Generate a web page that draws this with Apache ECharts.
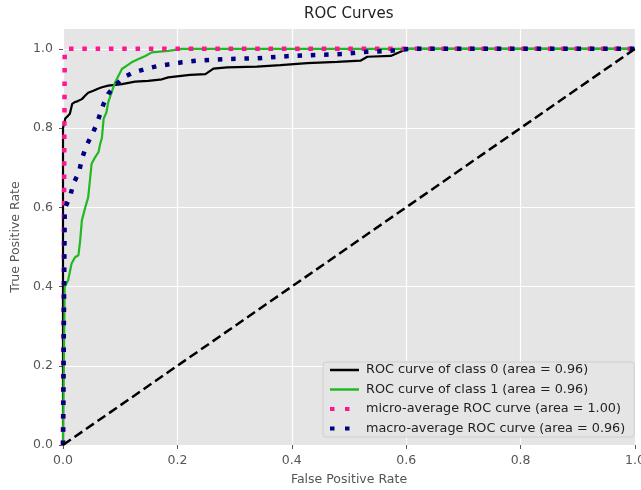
<!DOCTYPE html>
<html>
<head>
<meta charset="utf-8">
<script src="https://cdn.jsdelivr.net/npm/echarts@6/dist/echarts.min.js"></script>
<style>
html,body{margin:0;padding:0;background:#fff;}
#chart{width:641px;height:490px;}
</style>
</head>
<body>
<div id="chart"></div>
<script>
// ---- data ----
const xTicks = [0, 0.2, 0.4, 0.6, 0.8, 1.0];
const yTicks = [0, 0.2, 0.4, 0.6, 0.8, 1.0];

const seriesNames = [
  'ROC curve of class 0 (area = 0.96)',
  'ROC curve of class 1 (area = 0.96)',
  'micro-average ROC curve (area = 1.00)',
  'macro-average ROC curve (area = 0.96)'
];

const fpr0 = [0, 0.000, 0.004, 0.008, 0.012, 0.016, 0.020, 0.026, 0.033, 0.039, 0.044, 0.053, 0.061, 0.068, 0.079, 0.091, 0.103, 0.126, 0.149, 0.173, 0.184, 0.222, 0.249, 0.263, 0.287, 0.339, 0.380, 0.427, 0.479, 0.520, 0.532, 0.573, 0.584, 0.602, 1.0];
const tpr0 = [0, 0.800, 0.824, 0.830, 0.836, 0.861, 0.865, 0.868, 0.873, 0.882, 0.889, 0.894, 0.899, 0.903, 0.907, 0.909, 0.911, 0.917, 0.919, 0.923, 0.928, 0.934, 0.936, 0.950, 0.953, 0.955, 0.959, 0.964, 0.967, 0.970, 0.980, 0.982, 0.989, 1.0, 1.0];

const fpr1 = [0, 0.003, 0.009, 0.015, 0.021, 0.027, 0.030, 0.033, 0.039, 0.044, 0.047, 0.050, 0.056, 0.062, 0.065, 0.068, 0.071, 0.076, 0.079, 0.085, 0.091, 0.097, 0.103, 0.111, 0.120, 0.132, 0.144, 0.155, 0.184, 0.208, 1.0];
const tpr1 = [0, 0.399, 0.416, 0.458, 0.474, 0.479, 0.516, 0.567, 0.600, 0.625, 0.667, 0.710, 0.726, 0.739, 0.760, 0.775, 0.823, 0.840, 0.865, 0.890, 0.915, 0.932, 0.949, 0.957, 0.966, 0.974, 0.982, 0.991, 0.995, 1.0, 1.0];

const fprMicro = [0, 0.003, 0.010, 1.0];
const tprMicro = [0, 0.995, 1.0, 1.0];

const fprMacro = [0, 0.003, 0.012, 0.018, 0.028, 0.033, 0.041, 0.050, 0.059, 0.065, 0.071, 0.079, 0.091, 0.106, 0.123, 0.144, 0.167, 0.187, 0.208, 0.234, 0.280, 0.339, 0.398, 0.490, 0.525, 0.573, 0.608, 1.0];
const tprMacro = [0, 0.597, 0.625, 0.659, 0.689, 0.722, 0.756, 0.781, 0.810, 0.836, 0.861, 0.886, 0.907, 0.928, 0.940, 0.949, 0.957, 0.961, 0.966, 0.970, 0.974, 0.976, 0.982, 0.987, 0.992, 0.995, 1.0, 1.0];

const fprChance = [0, 1];
const tprChance = [0, 1];

// ---- build chart ----
const zip = (a, b) => a.map((v, i) => [v, b[i]]);
const FONT = 'DejaVu Sans';

const chart = echarts.init(document.getElementById('chart'), null, {renderer: 'canvas'});
const hidden = {opacity: 0};
const option = {
  animation: false,
  textStyle: {fontFamily: FONT},
  title: {
    text: 'ROC Curves',
    left: 304, top: 7, padding: 0,
    textStyle: {fontFamily: FONT, fontSize: 15, fontWeight: 'normal', color: '#222'}
  },
  grid: {
    left: 63, right: 6, top: 29, bottom: 45,
    outerBoundsMode: 'none', containLabel: false,
    show: true, backgroundColor: '#e5e5e5', borderWidth: 0
  },
  xAxis: {
    type: 'value', min: 0, max: 1, interval: 0.2,
    name: 'False Positive Rate', nameLocation: 'middle', nameGap: 28,
    nameTextStyle: {fontFamily: FONT, fontSize: 12.5, color: '#555'},
    axisLine: {show: false},
    axisTick: {show: true, length: 4, lineStyle: {color: '#555', width: 1}},
    axisLabel: {color: '#555', fontSize: 12.5, fontFamily: FONT, margin: 9,
      customValues: xTicks, formatter: v => v.toFixed(1)},
    splitLine: {show: true, lineStyle: {color: '#ffffff', width: 1.2}}
  },
  yAxis: {
    type: 'value', min: 0, max: 1.05, interval: 0.2,
    name: 'True Positive Rate', nameLocation: 'middle', nameGap: 29,
    nameTextStyle: {fontFamily: FONT, fontSize: 12.5, color: '#555'},
    axisLine: {show: false},
    axisTick: {show: true, length: 4, lineStyle: {color: '#555', width: 1}, customValues: yTicks},
    axisLabel: {color: '#555', fontSize: 12.5, fontFamily: FONT, margin: 10,
      customValues: yTicks, formatter: v => v.toFixed(1)},
    splitLine: {show: true, lineStyle: {color: '#ffffff', width: 1.2}}
  },
  legend: {
    orient: 'vertical',
    left: 323, top: 362,
    padding: [1, 9, 1.5, 5],
    itemWidth: 29, itemHeight: 14, itemGap: 5.5,
    backgroundColor: '#e5e5e5',
    borderColor: '#cfcfcf', borderWidth: 1, borderRadius: 3,
    textStyle: {fontFamily: FONT, fontSize: 12.8, color: '#222', lineHeight: 14, padding: [0, 0, 0, 2]},
    data: [
      {name: seriesNames[0], itemStyle: hidden, lineStyle: {width: 2.5, type: 'solid'}},
      {name: seriesNames[1], itemStyle: hidden, lineStyle: {width: 2.5, type: 'solid'}},
      {name: seriesNames[2], itemStyle: hidden, lineStyle: {width: 4, type: [4.5, 10.5]}},
      {name: seriesNames[3], itemStyle: hidden, lineStyle: {width: 4, type: [4.5, 10.5]}}
    ]
  },
  series: [
    {name: seriesNames[0], type: 'line', data: zip(fpr0, tpr0), symbol: 'none', color: '#000000',
      lineStyle: {color: '#000000', width: 2.2}},
    {name: seriesNames[1], type: 'line', data: zip(fpr1, tpr1), symbol: 'none', color: '#22b822',
      lineStyle: {color: '#22b822', width: 2.2}},
    {name: seriesNames[2], type: 'line', data: zip(fprMicro, tprMicro), symbol: 'none', color: '#ff1493',
      lineStyle: {color: '#ff1493', width: 4.5, type: [4.5, 8.8], cap: 'butt'}},
    {name: seriesNames[3], type: 'line', data: zip(fprMacro, tprMacro), symbol: 'none', color: '#000080',
      lineStyle: {color: '#000080', width: 4.5, type: [4.5, 8.8], cap: 'butt'}},
    {name: 'chance', type: 'line', data: zip(fprChance, tprChance), symbol: 'none', color: '#000000',
      lineStyle: {color: '#000000', width: 2.5, type: [9.5, 4.5]}}
  ]
};
chart.setOption(option);
</script>
</body>
</html>
